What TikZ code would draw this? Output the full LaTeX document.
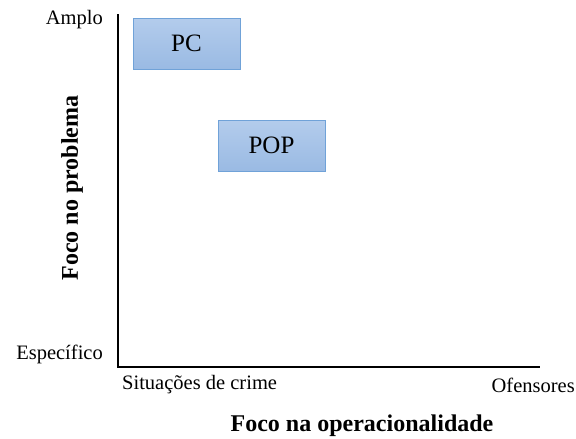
\documentclass[tikz,border=0pt]{standalone}
\usepackage{fontspec}
\setmainfont{Liberation Serif}
\definecolor{boxTop}{HTML}{B3CCEC}
\definecolor{boxBottom}{HTML}{9ABAE3}
\definecolor{boxBorder}{HTML}{70A2D8}
\usetikzlibrary{
  positioning,
  calc
}

\begin{document}
\begin{tikzpicture}[
    x = 1pt, y = -1pt,
    % Axes.
    axis/.style = {
      draw = black,
      line width = 2pt
    },
    % Tick texts.
    tick/.style = {
      font = \fontsize{20.5}{24}\selectfont,
      inner sep = 0pt
    },
    % Axis titles.
    axistitle/.style = {
      font = \fontsize{24}{28}\selectfont\bfseries,
      inner sep = 0pt
    },
    % Boxes.
    strategy/.style = {
      draw = boxBorder,
      line width = 1pt,
      top color = boxTop,
      bottom color = boxBottom,
      minimum width = 107pt,
      minimum height = 51pt,
      font = \fontsize{25}{28}\selectfont
    }
  ]
  \useasboundingbox (0,0) rectangle (576,439);

  % Axes.
  \coordinate (yTop) at (118,14);
  \coordinate (origin) at (118,367);
  \coordinate (xEnd) at (540,367);
  \draw[axis] (yTop) -- (origin) -- (xEnd);

  % Boxes.
  \node[strategy] (pc) at (186.5,43.5) {PC};
  \node[strategy] (pop) at (271.5,145.5) {POP};

  % Tick texts.
  \node[tick, anchor = east] (amplo) at (103,20) {Amplo};
  \node[tick, anchor = east] (especifico) at (103,354) {Específico};
  \node[tick, anchor = west] (situacoes) at (122,385) {Situações de crime};
  \node[tick, anchor = east] (ofensores) at (575,385) {Ofensores};

  % Axis titles.
  \node[axistitle, rotate = 90] (yTitle) at (72,188) {Foco no problema};
  \node[axistitle] (xTitle) at (362,426) {Foco na operacionalidade};
\end{tikzpicture}
\end{document}
